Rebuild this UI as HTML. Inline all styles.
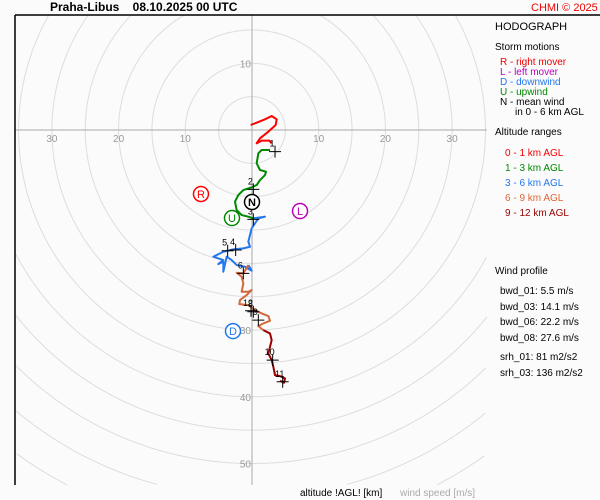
<!DOCTYPE html>
<html><head><meta charset="utf-8"><style>
html,body{margin:0;padding:0;background:#fff;width:600px;height:500px;overflow:hidden;}
svg{display:block;font-family:"Liberation Sans",sans-serif;}
</style></head><body>
<svg id="chart" width="600" height="500" xmlns="http://www.w3.org/2000/svg">
<rect x="0" y="0" width="600" height="500" fill="#fbfbfb"/>
<g id="grid"></g>
<line x1="15" y1="15" x2="600" y2="15" stroke="#000" stroke-width="1.5"/>
<line x1="15" y1="15" x2="15" y2="485" stroke="#000" stroke-width="1.5"/>
<g id="axisLabels" font-size="10" fill="#999"></g>
<g id="traces"></g>
<g id="marks"></g>
<g id="storms"></g>
<text x="50" y="11" font-size="12" font-weight="bold" fill="#000">Praha-Libus&#160;&#160;&#160; 08.10.2025 00 UTC</text>
<text x="531" y="11" font-size="11" fill="#e00">CHMI © 2025</text>
<g font-size="10">
<text x="495" y="30" font-size="11" fill="#000">HODOGRAPH</text>
<text x="495" y="50" fill="#000">Storm motions</text>
<text x="500" y="65" fill="#e00">R - right mover</text>
<text x="500" y="75" fill="#b0b">L - left mover</text>
<text x="500" y="85" fill="#27e">D - downwind</text>
<text x="500" y="95" fill="#080">U - upwind</text>
<text x="500" y="105" fill="#000">N - mean wind</text>
<text x="515" y="115" fill="#000">in 0 - 6 km AGL</text>
<text x="495" y="135" fill="#000">Altitude ranges</text>
<text x="505" y="156" fill="#e00">0 - 1 km AGL</text>
<text x="505" y="171" fill="#080">1 - 3 km AGL</text>
<text x="505" y="186" fill="#27e">3 - 6 km AGL</text>
<text x="505" y="201" fill="#d63">6 - 9 km AGL</text>
<text x="505" y="216" fill="#900">9 - 12 km AGL</text>
<text x="495" y="274" fill="#000">Wind profile</text>
<text x="500" y="294" fill="#000">bwd_01: 5.5 m/s</text>
<text x="500" y="310" fill="#000">bwd_03: 14.1 m/s</text>
<text x="500" y="325" fill="#000">bwd_06: 22.2 m/s</text>
<text x="500" y="341" fill="#000">bwd_08: 27.6 m/s</text>
<text x="500" y="360" fill="#000">srh_01: 81 m2/s2</text>
<text x="500" y="376" fill="#000">srh_03: 136 m2/s2</text>
</g>
<text x="300" y="496" font-size="10" fill="#000">altitude !AGL! [km]</text>
<text x="400" y="496" font-size="10" fill="#aaa">wind speed [m/s]</text>
</svg>
<script>
const redU=[-0.2,0.7,1.95,2.95,3.7,3.55,2.45,1.2,0.7,1.45,2.6,2.95];
const redV=[0.75,1.1,1.6,2.1,1.6,0.75,-0.25,-1.25,-2.0,-1.6,-1.6,-2.0];
const greenU=[2.7,1.45,0.95,0.7,1.2,2.1,1.95,1.2,0.7,-0.05,-1.3,-2.05,-2.55,-2.3,-1.55,-0.55,0.2];
const greenV=[-3.0,-3.0,-3.5,-5.0,-6.0,-6.25,-6.75,-7.5,-8.25,-8.6,-9.0,-9.75,-10.75,-12.0,-12.75,-13.0,-13.25];
const blueU=[0.2,1.95,0.95,0.45,-0.05,-0.3,-0.55,-0.3,-1.3,-2.8,-4.3,-5.8,-4.3,-5.05,-4.3,-4.3,-3.8,-3.05,-2.3,-1.05,-0.05,-0.55];
const blueV=[-13.25,-13.0,-13.25,-14.0,-14.75,-15.75,-16.75,-17.5,-17.75,-17.9,-18.25,-19.0,-19.5,-20.1,-19.75,-21.25,-19.0,-19.5,-20.25,-20.5,-21.1,-20.25];
const orangeU=[-0.55,-1.3,-2.3,-1.55,-1.3,-1.55,-0.55,-0.05,-0.8,-1.8,-1.9,-0.55,0.45,1.45,2.45,2.7,1.7,0.95,1.7];
const orangeV=[-20.25,-21.5,-21.4,-22.0,-23.0,-24.25,-24.25,-24.0,-24.75,-25.5,-26.1,-26.25,-27.0,-27.5,-27.9,-28.6,-29.0,-29.4,-30.0];
const darkU=[1.7,2.7,2.95,2.7,2.45,2.95,3.2,3.45,4.2,4.95,4.8,4.2];
const darkV=[-30.0,-30.5,-31.5,-32.5,-33.5,-34.5,-35.5,-36.75,-36.9,-37.25,-37.9,-37.6];
const markerLabels=["1","2","3","4","5","6","12","8","9","10","11"];
const markerU=[3.45,0.2,0.2,-2.45,-3.65,-1.3,-0.15,0.2,0.95,3.1,4.6];
const markerV=[-3.25,-8.9,-13.4,-18.0,-18.1,-21.5,-27.1,-27.25,-28.5,-34.5,-37.75];
const stormLabels=["R","L","D","U","N"];
const stormU=[-7.65,7.2,-2.85,-3.0,0.0];
const stormV=[-9.6,-12.15,-30.15,-13.2,-10.8];
const ringSpeeds=[5,10,15,20,25,30,35,40,45,50,55,60,65];
const hTicks=[-30,-20,-10,10,20,30];
const vTicks=[10,-30,-40,-50];

const CX=252,CY=130,S=6.67;
const X0=15,X1=487,Y0=15,Y1=485;
const px=u=>CX+u*S, py=v=>CY-v*S;
const NS="http://www.w3.org/2000/svg";
function mk(tag,parent){const e=document.createElementNS(NS,tag);parent.appendChild(e);return e;}
const grid=document.getElementById('grid');
ringSpeeds.forEach(r=>{
  const R=r*S;let d='',pen=false;
  for(let k=0;k<=720;k++){const a=k/720*2*Math.PI;const x=CX+R*Math.cos(a),y=CY+R*Math.sin(a);
    const inside=x>=X0&&x<=X1&&y>=Y0&&y<=Y1;
    if(inside){d+=(pen?'L':'M')+x.toFixed(1)+','+y.toFixed(1);pen=true;}else pen=false;}
  const c=mk('path',grid);c.setAttribute('d',d);c.setAttribute('fill','none');c.setAttribute('stroke','#ddd');
  
  });
let l=mk('line',grid);l.setAttribute('x1',X0);l.setAttribute('x2',X1);l.setAttribute('y1',CY);l.setAttribute('y2',CY);l.setAttribute('stroke','#aaa');


l=mk('line',grid);l.setAttribute('x1',CX);l.setAttribute('x2',CX);l.setAttribute('y1',Y0);l.setAttribute('y2',Y1);l.setAttribute('stroke','#aaa');


const al=document.getElementById('axisLabels');
hTicks.forEach(t=>{const e=mk('text',al);e.setAttribute('x',px(t));e.setAttribute('y',CY+12);e.setAttribute('text-anchor','middle');e.textContent=Math.abs(t);

});
vTicks.forEach(t=>{const e=mk('text',al);e.setAttribute('x',CX-1);e.setAttribute('y',py(t)+4);e.setAttribute('text-anchor','end');e.textContent=Math.abs(t);

});
const tr=document.getElementById('traces');
[[redU,redV,'#f00','trace-0-1km'],[greenU,greenV,'#080','trace-1-3km'],[blueU,blueV,'#2677ee','trace-3-6km'],[orangeU,orangeV,'#d2693c','trace-6-9km'],[darkU,darkV,'#990000','trace-9-12km']].forEach(s=>{
const p=mk('polyline',tr);p.setAttribute('points',s[0].map((u,i)=>px(u)+','+py(s[1][i])).join(' '));p.setAttribute('fill','none');p.setAttribute('stroke',s[2]);p.setAttribute('stroke-width','2');p.setAttribute('stroke-linejoin','round');

});
const mg=document.getElementById('marks');
markerLabels.forEach((lab,i)=>{const x=px(markerU[i]),y=py(markerV[i]);
const p=mk('path',mg);p.setAttribute('d',`M${x-6},${y}H${x+6}M${x},${y-6}V${y+6}`);p.setAttribute('stroke','#000');


const t=mk('text',mg);t.setAttribute('x',x-3);t.setAttribute('y',y-5);t.setAttribute('font-size','9');t.setAttribute('text-anchor','middle');t.textContent=lab;

});
const sg=document.getElementById('storms');
const scol={R:'#f00',L:'#b0b',D:'#27e',U:'#080',N:'#000'};
stormLabels.forEach((lab,i)=>{const x=px(stormU[i]),y=py(stormV[i]);
const c=mk('circle',sg);c.setAttribute('cx',x);c.setAttribute('cy',y);c.setAttribute('r',7.5);c.setAttribute('fill','#fff');c.setAttribute('stroke',scol[lab]);c.setAttribute('stroke-width','1.5');


const t=mk('text',sg);t.setAttribute('x',x);t.setAttribute('y',y+4);t.setAttribute('font-size','11');t.setAttribute('font-weight',lab==='N'?'bold':'normal');t.setAttribute('text-anchor','middle');t.setAttribute('fill',scol[lab]);t.textContent=lab;

});
</script>
</body></html>
